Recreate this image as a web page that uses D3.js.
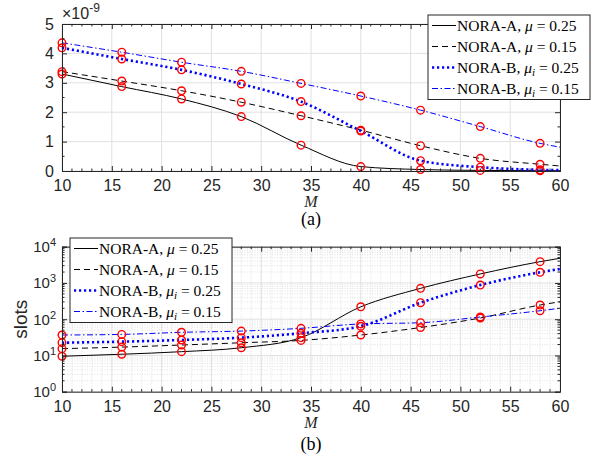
<!DOCTYPE html>
<html>
<head>
<meta charset="utf-8">
<script src="https://cdn.jsdelivr.net/npm/d3@7"></script>
<style>
  body { margin: 0; background: #fff; }
  svg { display: block; }
</style>
</head>
<body>
<script>
// x positions (M); markers are drawn at the first nine, curves run to 60
const M = [10, 16, 22, 28, 34, 40, 46, 52, 58, 60];

// (a) values, in units of 1e-9
const errA25 = [3.30, 2.87, 2.45, 1.85, 0.88, 0.15, 0.05, 0.02, 0.01, 0.01];
const errA15 = [3.38, 3.06, 2.73, 2.34, 1.88, 1.39, 0.86, 0.43, 0.23, 0.17];
const errB25 = [4.19, 3.81, 3.44, 2.96, 2.36, 1.36, 0.35, 0.13, 0.04, 0.03];
const errB15 = [4.36, 4.04, 3.70, 3.39, 2.98, 2.55, 2.07, 1.51, 0.94, 0.81];

// (b) slots
const slotA25 = [9.5, 10.8, 12.7, 16.3, 31, 220, 710, 1770, 3860, 4790];
const slotA15 = [15.4, 17, 19.4, 22.4, 26, 36.6, 59, 108, 246, 302];
const slotB25 = [22.5, 24, 26.7, 31, 41, 64, 285, 875, 1970, 2430];
const slotB15 = [36.6, 38, 43.5, 47, 56, 74, 80, 115, 171, 200];

const xTicks = [10, 15, 20, 25, 30, 35, 40, 45, 50, 55, 60];
const yTicksA = [0, 1, 2, 3, 4, 5];
const yTicksB = [1, 10, 100, 1000, 10000];

const seriesNames = [
  {name: "NORA-A, ", sym: "μ", sub: "", val: " = 0.25"},
  {name: "NORA-A, ", sym: "μ", sub: "", val: " = 0.15"},
  {name: "NORA-B, ", sym: "μ", sub: "i", val: " = 0.25"},
  {name: "NORA-B, ", sym: "μ", sub: "i", val: " = 0.15"}
];
const styles = [
  {color: "#000", width: 1, dash: null},
  {color: "#000", width: 1, dash: "6,4"},
  {color: "#0000ff", width: 2.6, dash: "2.2,2.8"},
  {color: "#0000ff", width: 1, dash: "6,2.5,1.5,2.5"}
];

const width = 605, height = 459;
const svg = d3.select("body").append("svg")
    .attr("width", width).attr("height", height);

const axisCol = "#262626";
const sans = "'Liberation Sans', Arial, sans-serif";
const serif = "'Liberation Serif', 'Times New Roman', serif";
const x = d3.scaleLinear().domain([10, 60]).range([62, 560]);

function drawPanel(opt) {
  const y = opt.y;
  const [yb, yt] = y.range();
  const g = svg.append("g");

  // minor grid
  if (opt.minorGrid) {
    const mx = d3.range(10, 61, 1).filter(v => v % 5 !== 0);
    g.selectAll(null).data(mx).join("line")
      .attr("x1", d => x(d)).attr("x2", d => x(d))
      .attr("y1", yb).attr("y2", yt)
      .attr("stroke", "#d4d4d4").attr("stroke-width", 0.7)
      .attr("stroke-dasharray", "1,1.5");
    g.selectAll(null).data(opt.minorY).join("line")
      .attr("x1", 62).attr("x2", 560)
      .attr("y1", d => y(d)).attr("y2", d => y(d))
      .attr("stroke", "#d4d4d4").attr("stroke-width", 0.7)
      .attr("stroke-dasharray", "1,1.5");
  }
  // major grid
  g.selectAll(null).data(xTicks).join("line")
    .attr("x1", d => x(d)).attr("x2", d => x(d))
    .attr("y1", yb).attr("y2", yt)
    .attr("stroke", "#e0e0e0").attr("stroke-width", 1);
  g.selectAll(null).data(opt.yTicks).join("line")
    .attr("x1", 62).attr("x2", 560)
    .attr("y1", d => y(d)).attr("y2", d => y(d))
    .attr("stroke", "#e0e0e0").attr("stroke-width", 1);

  // curves
  const line = d3.line()
      .x((d, i) => x(M[i]))
      .y(d => y(d))
      .curve(d3.curveMonotoneX);
  opt.data.forEach((s, k) => {
    const st = styles[k];
    g.append("path")
      .attr("d", line(s))
      .attr("fill", "none")
      .attr("stroke", st.color)
      .attr("stroke-width", st.width)
      .attr("stroke-dasharray", st.dash);
  });
  opt.data.forEach(s => {
    g.selectAll(null).data(s.slice(0, 9)).join("circle")
      .attr("cx", (d, i) => x(M[i]))
      .attr("cy", d => y(d))
      .attr("r", 3.8)
      .attr("fill", "none")
      .attr("stroke", "#ff0000")
      .attr("stroke-width", 1.4);
  });

  // axes box with inward ticks
  const xa = d3.axisBottom(x).tickValues(xTicks).tickSize(-5).tickFormat(d => d).tickPadding(9);
  const xb = g.append("g").attr("transform", `translate(0,${yb})`).call(xa);
  const xt = g.append("g").attr("transform", `translate(0,${yt})`)
      .call(d3.axisTop(x).tickValues(xTicks).tickSize(-5).tickFormat(""));
  const ya = d3.axisLeft(y).tickValues(opt.yTicks).tickSize(-5).tickFormat(opt.yFmt).tickPadding(8);
  const yl = g.append("g").attr("transform", "translate(62,0)").call(ya);
  const yr = g.append("g").attr("transform", "translate(560,0)")
      .call(d3.axisRight(y).tickValues(opt.yTicks).tickSize(-5).tickFormat(""));
  [xb, xt, yl, yr].forEach(a => {
    a.attr("font-family", sans).attr("font-size", 16);
    a.select(".domain").attr("stroke", axisCol);
    a.selectAll(".tick line").attr("stroke", axisCol);
    a.selectAll(".tick text").attr("fill", axisCol);
  });
  // minor ticks
  const mxt = d3.range(10, 61, 1).filter(v => v % 5 !== 0);
  [[yb, -2.5], [yt, 2.5]].forEach(([yy, dl]) => {
    g.selectAll(null).data(mxt).join("line")
      .attr("x1", d => x(d)).attr("x2", d => x(d))
      .attr("y1", yy).attr("y2", yy + dl)
      .attr("stroke", axisCol);
  });
  [[62, 2.5], [560, -2.5]].forEach(([xx, dl]) => {
    g.selectAll(null).data(opt.minorY).join("line")
      .attr("x1", xx).attr("x2", xx + dl)
      .attr("y1", d => y(d)).attr("y2", d => y(d))
      .attr("stroke", axisCol);
  });
  return g;
}

// panel (a)
const yA = d3.scaleLinear().domain([0, 5]).range([171, 24]);
drawPanel({
  y: yA, yTicks: yTicksA, yFmt: d => d,
  minorY: d3.range(0.5, 5, 1),
  minorGrid: false,
  data: [errA25, errA15, errB25, errB15]
});
// exponent label
const ex = svg.append("text").attr("x", 62).attr("y", 19)
    .attr("font-family", sans).attr("font-size", 16).attr("fill", axisCol);
ex.append("tspan").text("×10");
ex.append("tspan").attr("dy", -7).attr("font-size", 12).text("-9");

// panel (b)
const yB = d3.scaleLog().domain([1, 1e4]).range([391.7, 246.7]);
const minorB = [];
[1, 10, 100, 1000].forEach(p => d3.range(2, 10).forEach(m => minorB.push(p * m)));
drawPanel({
  y: yB, yTicks: yTicksB, yFmt: () => "",
  minorY: minorB,
  minorGrid: true,
  data: [slotA25, slotA15, slotB25, slotB15]
});
// log tick labels 10^k
yTicksB.forEach(v => {
  const t = svg.append("text")
    .attr("x", 56).attr("y", yB(v) + 5.5).attr("text-anchor", "end")
    .attr("font-family", sans).attr("font-size", 15).attr("fill", axisCol);
  t.append("tspan").text("10");
  t.append("tspan").attr("dy", -6).attr("font-size", 11).text(Math.round(Math.log10(v)));
});
svg.append("text")
  .attr("transform", `translate(27,${(391.7 + 246.7) / 2}) rotate(-90)`)
  .attr("text-anchor", "middle")
  .attr("font-family", sans).attr("font-size", 19)
  .attr("fill", axisCol)
  .text("slots");

// axis labels and captions
[[202, "M", 218, "(a)"], [423, "M", 443, "(b)"]].forEach(([y1, m, y2, cap]) => {
  svg.append("text").attr("font-family", serif).attr("x", 311).attr("y", y1 + 5)
    .attr("text-anchor", "middle").attr("font-style", "italic").attr("font-size", 16)
    .attr("fill", "#262626").text(m);
  svg.append("text").attr("font-family", serif).attr("x", 311).attr("y", y2 + 7)
    .attr("text-anchor", "middle").attr("font-size", 18).text(cap);
});

// legends
function legend(x0, y0, w) {
  const g = svg.append("g").attr("transform", `translate(${x0},${y0})`);
  g.append("rect").attr("width", w).attr("height", 84.5)
    .attr("fill", "#fff").attr("stroke", axisCol).attr("stroke-width", 1);
  seriesNames.forEach((s, i) => {
    const cy = 10.5 + i * 21;
    const st = styles[i];
    g.append("line").attr("x1", 4).attr("x2", 28).attr("y1", cy).attr("y2", cy)
      .attr("stroke", st.color).attr("stroke-width", st.width)
      .attr("stroke-dasharray", st.dash);
    const t = g.append("text").attr("font-family", serif).attr("x", 29).attr("y", cy + 5.5)
      .attr("font-size", 15.5);
    t.append("tspan").text(s.name);
    t.append("tspan").attr("font-style", "italic").text(s.sym);
    if (s.sub) t.append("tspan").attr("font-style", "italic").attr("font-size", 11).attr("dy", 3).text(s.sub);
    t.append("tspan").attr("dy", s.sub ? -3 : 0).text(s.val);
  });
}
legend(428, 15, 162);
legend(70, 238, 162);
</script>
</body>
</html>
